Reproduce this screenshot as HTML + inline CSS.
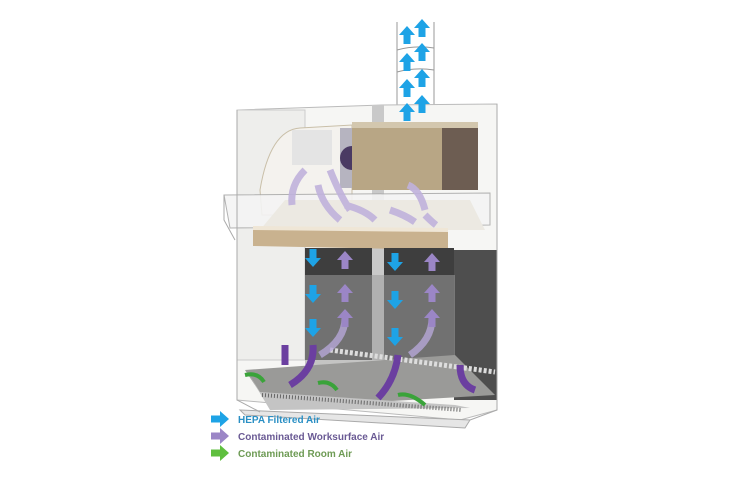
<!DOCTYPE html>
<html><head><style>
html,body{margin:0;padding:0;background:#fff;}
svg{display:block}
text{font-family:"Liberation Sans",sans-serif;font-weight:bold;font-size:10px}
</style></head><body>
<svg width="750" height="500" viewBox="0 0 750 500" xmlns="http://www.w3.org/2000/svg">
<defs>
<g id="ab"><path d="M-3.5,9 L-3.5,0 L-8,0 L0,-9 L8,0 L3.5,0 L3.5,9 Z" fill="#1ea3e6"/></g>
<g id="ap"><path d="M-3.5,9 L-3.5,0 L-8,0 L0,-9 L8,0 L3.5,0 L3.5,9 Z" fill="#9b86c6"/></g>
</defs>
<!-- duct -->
<g stroke="#999" fill="none" stroke-width="1">
<line x1="397" y1="22" x2="397" y2="106"/><line x1="434" y1="22" x2="434" y2="106"/>
<path d="M397,50 Q415,45 434,48 M397,72 Q415,67 434,70"/>
</g>
<!-- cabinet back glass -->
<path d="M237,110 L382,105 L497,104 L497,410 L460,420 L237,400 Z" fill="#f6f6f4" stroke="#bbb"/>
<rect x="237" y="110" width="68" height="250" fill="#eeeeec" stroke="#ccc"/>
<rect x="372" y="105" width="12" height="255" fill="#c9c9c9"/>
<!-- fan housing -->
<path d="M260,190 Q270,130 300,128 L352,125 L352,215 L262,215 Z" fill="#f4f2ee" stroke="#c9bfa8"/>
<rect x="292" y="130" width="40" height="35" fill="#e4e4e4"/>
<rect x="340" y="128" width="25" height="60" fill="#b6b4c0"/>
<circle cx="352" cy="158" r="12" fill="#4a3a63"/>
<!-- brown filter box -->
<rect x="352" y="127" width="90" height="63" fill="#b8a685"/>
<rect x="442" y="127" width="36" height="63" fill="#6d5d52"/>
<rect x="352" y="122" width="126" height="6" fill="#d3c7ae"/>
<!-- front top panel -->
<path d="M224,195 L490,193 L490,225 L230,228 Z" fill="#f4f4f4" stroke="#aaa" opacity="0.9"/>
<path d="M285,200 L470,200 L485,230 L260,230 Z" fill="#ece9e2"/>
<!-- tan shelf -->
<path d="M253,228 L448,230 L448,250 L253,246 Z" fill="#c9b28f"/>
<path d="M253,226 L448,228 L448,232 L253,230 Z" fill="#efe6d6"/>
<!-- dark back wall -->
<rect x="305" y="248" width="67" height="112" fill="#3e3e3e"/>
<rect x="384" y="248" width="70" height="112" fill="#3e3e3e"/>
<rect x="454" y="250" width="43" height="150" fill="#4e4e4e"/>
<rect x="305" y="275" width="150" height="90" fill="#9a9a9a" opacity="0.55"/>
<!-- floor -->
<path d="M245,370 L455,355 L495,395 L270,408 Z" fill="#9a9a98"/>
<path d="M245,368 L260,392 L455,405 L470,408 L270,410 Z" fill="#c4c4c4"/>
<path d="M262,395 L462,410" stroke="#666" stroke-width="4" stroke-dasharray="1,2"/>
<path d="M330,350 L495,372" stroke="#ddd" stroke-width="5" stroke-dasharray="3,2"/>
<path d="M240,410 L470,420 L465,428 L245,415 Z" fill="#e6e6e6" stroke="#aaa"/>
<!-- glass outline -->
<g stroke="#aaa" fill="none">
<path d="M237,110 L237,400 L260,412 M497,104 L497,410 L470,420"/>
<path d="M224,195 L224,220 L235,240"/>
</g>
<!-- purple arrows top -->
<g stroke="#c0b2dc" stroke-width="7" fill="none" opacity="0.9">
<path d="M305,170 Q290,185 292,205"/><path d="M330,170 Q340,195 350,210"/>
<path d="M318,185 Q322,205 340,220"/><path d="M345,205 Q365,210 375,220"/>
<path d="M390,210 Q405,215 415,222"/><path d="M425,215 Q432,222 436,225"/>
<path d="M408,185 Q420,190 425,210"/>
</g>
<!-- purple bottom ducts -->
<g stroke="#6b3fa0" stroke-width="7" fill="none">
<path d="M285,345 L285,365"/><path d="M313,345 Q315,370 290,385"/>
<path d="M398,355 Q395,380 378,398"/><path d="M460,365 Q460,385 475,390"/>
</g>
<g stroke="#b7a7d8" stroke-width="7" fill="none" opacity="0.8">
<path d="M320,355 Q345,340 345,318"/><path d="M410,355 Q432,340 432,318"/>
</g>
<!-- green arrows -->
<g stroke="#3aa33a" stroke-width="4" fill="none">
<path d="M245,375 Q258,372 264,382"/><path d="M318,383 Q330,380 337,390"/><path d="M398,395 Q410,392 425,405"/>
</g>
<!-- blue down arrows -->
<use href="#ab" transform="translate(313,258) rotate(180)"/>
<use href="#ab" transform="translate(313,294) rotate(180)"/>
<use href="#ab" transform="translate(313,328) rotate(180)"/>
<use href="#ab" transform="translate(395,262) rotate(180)"/>
<use href="#ab" transform="translate(395,300) rotate(180)"/>
<use href="#ab" transform="translate(395,337) rotate(180)"/>
<use href="#ap" transform="translate(345,260)"/><use href="#ap" transform="translate(432,262)"/>
<use href="#ap" transform="translate(345,293)"/><use href="#ap" transform="translate(432,293)"/>
<use href="#ap" transform="translate(345,318)"/><use href="#ap" transform="translate(432,318)"/>
<!-- duct arrows -->
<use href="#ab" transform="translate(407,35)"/><use href="#ab" transform="translate(422,28)"/>
<use href="#ab" transform="translate(407,62)"/><use href="#ab" transform="translate(422,52)"/>
<use href="#ab" transform="translate(407,88)"/><use href="#ab" transform="translate(422,78)"/>
<use href="#ab" transform="translate(407,112)"/><use href="#ab" transform="translate(422,104)"/>
<!-- legend -->
<use href="#ab" transform="translate(220,419) rotate(90)"/>
<use href="#ap" transform="translate(220,436) rotate(90)"/>
<g transform="translate(220,453) rotate(90)"><path d="M-3.5,9 L-3.5,0 L-8,0 L0,-9 L8,0 L3.5,0 L3.5,9 Z" fill="#5fbf3f"/></g>
<text x="238" y="423" fill="#2a8fc4">HEPA Filtered Air</text>
<text x="238" y="440" fill="#6a5a94">Contaminated Worksurface Air</text>
<text x="238" y="457" fill="#6e9b55">Contaminated Room Air</text>
</svg>
</body></html>
